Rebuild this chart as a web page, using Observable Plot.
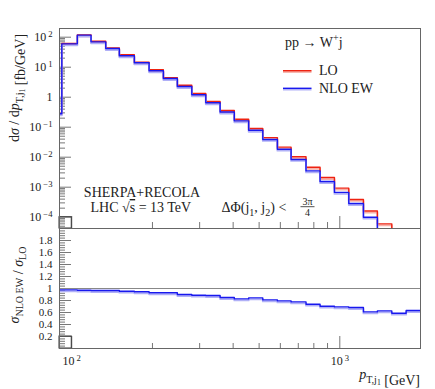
<!DOCTYPE html>
<html><head><meta charset="utf-8">
<script src="https://cdn.jsdelivr.net/npm/d3@7"></script>
<script src="https://cdn.jsdelivr.net/npm/@observablehq/plot@0.6"></script>
<style>
body{margin:0;background:#fff;}
#chart{position:relative;width:435px;height:389px;}
#chart svg{position:absolute;left:0;overflow:visible;}
</style></head><body><div id="chart"></div>
<script>
// ---- data ----
const binEdges = [90, 91.8, 104.9, 118, 133.9, 150.5, 171.2, 194.3, 219.7, 247.7, 280.4, 316.2, 357.6, 404, 457, 516, 585, 658, 748, 844, 955, 1080, 1225, 1381, 1563, 1768, 2000];
const loValues = [0.29, 62, 120, 73.6, 44, 25.9, 14.7, 8.2, 4.5, 2.5, 1.33, 0.72, 0.36, 0.185, 0.09, 0.045, 0.0216, 0.0103, 0.0046, 0.0021, 9.3e-4, 3.9e-4, 1.6e-4, 6e-5, 3e-5, 1.5e-5];
const nloValues = [0.28, 60, 117, 70, 42, 24, 14, 7.6, 4.2, 2.27, 1.2, 0.65, 0.32, 0.163, 0.079, 0.039, 0.0185, 0.0084, 0.0035, 0.00155, 6.7e-4, 2.86e-4, 1.0e-4, 3.6e-5, 1.8e-5, 9e-6];
const ratioValues = [0.977, 0.977, 0.972, 0.967, 0.967, 0.955, 0.945, 0.928, 0.928, 0.9, 0.888, 0.883, 0.85, 0.827, 0.843, 0.81, 0.793, 0.777, 0.738, 0.705, 0.693, 0.683, 0.61, 0.627, 0.588, 0.633];
const seriesNames = ["LO", "NLO EW"];
const xMajorTicks = [100, 1000];
const xMinorTicks = [200, 300, 400, 500, 600, 700, 800, 900];
const yMajorTicks = [1e-4, 1e-3, 1e-2, 1e-1, 1, 10, 100];
const yMinorTicks = [];
for (let d = -5; d <= 2; d++) for (let k = 2; k <= 9; k++) { const v = k * Math.pow(10, d); if (v > 4.2e-5 && v < 195) yMinorTicks.push(v); }
const ratioMajorTicks = [0.2, 0.4, 0.6, 0.8, 1, 1.2, 1.4, 1.6, 1.8];
const ratioMinorTicks = [];
for (let i = 1; i < 50; i++) if (i % 5) ratioMinorTicks.push(+(i * 0.04).toFixed(2));
const boxEdges = [90, 100];
const boxTopValue = 1e-4;
const boxRatioValue = 0.2;

// ---- style ----
const FONT = "'Liberation Serif', 'DejaVu Serif', serif";
const RED = "#ee2211", RED_L = "#f7b0a8";
const BLUE = "#1818ee", BLUE_L = "#b0b0f7";
const TICK = "#777", FRAME = "#666", INK = "#222";
const xDomain = [90, 2000];
const yDomain = [4.2e-5, 195];
const PW = 435 - 59 - 15;

const stepData = vals => binEdges.map((e, i) => ({x: e, y: vals[Math.min(i, vals.length - 1)]}));
const powFmt = v => {
  const e = Math.round(Math.log10(v));
  return e === 0 ? "1" : "10^" + (e < 0 ? "\u2212" + (-e) : e);
};

const topSvg = Plot.plot({
  width: 435, height: 228, marginLeft: 59, marginRight: 15, marginTop: 28, marginBottom: 0,
  x: {type: "log", domain: xDomain, axis: null},
  y: {type: "log", domain: yDomain, axis: null},
  style: {fontFamily: FONT, fontSize: "12px", color: INK, background: "none", overflow: "visible"},
  marks: [
    Plot.tickY(yMinorTicks, {y: d => d, stroke: TICK, insetRight: PW - 6}),
    Plot.tickY(yMajorTicks, {y: d => d, stroke: TICK, insetRight: PW - 12}),
    Plot.tickX(xMinorTicks, {x: d => d, stroke: TICK, insetTop: 200 - 6}),
    Plot.tickX(xMajorTicks, {x: d => d, stroke: TICK, insetTop: 200 - 12}),
    Plot.rect([0], {x1: () => boxEdges[0], x2: () => boxEdges[1], y1: () => yDomain[0], y2: () => boxTopValue, fill: "none", stroke: "#333"}),
    Plot.line(stepData(loValues), {x: "x", y: "y", curve: "step-after", stroke: RED_L, strokeWidth: 1.8, dy: 1.5, clip: true}),
    Plot.line(stepData(loValues), {x: "x", y: "y", curve: "step-after", stroke: RED, strokeWidth: 1.4, clip: true}),
    Plot.line(stepData(nloValues), {x: "x", y: "y", curve: "step-after", stroke: BLUE_L, strokeWidth: 1.8, dy: 1.5, clip: true}),
    Plot.line(stepData(nloValues), {x: "x", y: "y", curve: "step-after", stroke: BLUE, strokeWidth: 1.4, clip: true}),
    Plot.axisY(yMajorTicks, {tickSize: 0, tickPadding: 7, tickFormat: powFmt, fontSize: 12, label: null}),
    Plot.frame({stroke: FRAME})
  ]
});
topSvg.style.top = "0px";

const bottomSvg = Plot.plot({
  width: 435, height: 161, marginLeft: 59, marginRight: 15, marginTop: 0, marginBottom: 41,
  x: {type: "log", domain: xDomain, axis: null},
  y: {domain: [0, 2], axis: null},
  style: {fontFamily: FONT, fontSize: "12px", color: INK, background: "none", overflow: "visible"},
  marks: [
    Plot.tickY(ratioMinorTicks, {y: d => d, stroke: TICK, insetRight: PW - 6}),
    Plot.tickY(ratioMajorTicks, {y: d => d, stroke: TICK, insetRight: PW - 12}),
    Plot.tickX(xMinorTicks, {x: d => d, stroke: TICK, insetTop: 120 - 5}),
    Plot.tickX(xMajorTicks, {x: d => d, stroke: TICK, insetTop: 120 - 12}),
    Plot.ruleY([1], {stroke: "#888"}),
    Plot.rect([0], {x1: () => boxEdges[0], x2: () => boxEdges[1], y1: 0, y2: () => boxRatioValue, fill: "none", stroke: "#333"}),
    Plot.line(stepData(ratioValues), {x: "x", y: "y", curve: "step-after", stroke: BLUE_L, strokeWidth: 1.8, dy: 1.5, clip: true}),
    Plot.line(stepData(ratioValues), {x: "x", y: "y", curve: "step-after", stroke: BLUE, strokeWidth: 1.4, clip: true}),
    Plot.axisY(ratioMajorTicks, {tickSize: 0, tickPadding: 7, tickFormat: d => String(+d.toFixed(1)), fontSize: 11, label: null}),
    Plot.axisX(xMajorTicks, {tickSize: 0, tickPadding: 8, tickFormat: powFmt, fontSize: 12, label: null}),
    Plot.frame({stroke: FRAME})
  ]
});
bottomSvg.style.top = "228px";

const chart = document.getElementById("chart");
chart.append(topSvg, bottomSvg);

// superscript exponents in tick labels
for (const svg of [topSvg, bottomSvg]) {
  svg.querySelectorAll("text").forEach(t => {
    const m = t.textContent.match(/^10\^(.+)$/);
    if (!m) return;
    t.textContent = "";
    const s = d3.select(t);
    s.append("tspan").text("10");
    s.append("tspan").attr("dx", 2).attr("dy", "-0.45em").attr("font-size", "0.72em").text(m[1]);
  });
}

// rich text helper
function rich(svg, {x, y, anchor = "start", size = 14, rotate = 0, parts}) {
  const t = d3.select(svg).append("text")
    .attr("transform", `translate(${x},${y}) rotate(${rotate})`)
    .attr("text-anchor", anchor).attr("font-family", FONT).attr("font-size", size)
    .attr("fill", INK).style("white-space", "pre");
  let shift = 0;
  for (const p of parts) {
    const [str, kind] = Array.isArray(p) ? p : [p, "n"];
    const target = kind === "sub" ? 0.25 * size : kind === "subsub" ? 0.42 * size : kind === "sup" ? -0.4 * size : 0;
    const fs = (kind === "n" || kind === "it") ? size : kind === "subsub" ? size * 0.55 : size * 0.72;
    const ts = t.append("tspan").attr("dy", target - shift).attr("font-size", fs).text(str);
    if (kind === "it") ts.attr("font-style", "italic");
    shift = target;
  }
  return t;
}

// axis titles
rich(topSvg, {x: 19, y: 88, anchor: "middle", rotate: -90, size: 14,
  parts: ["d", ["σ", "it"], " / d", ["p", "it"], ["T,j", "sub"], ["1", "subsub"], ["", "n"], " [fb/GeV]"]});
rich(bottomSvg, {x: 19, y: 57, anchor: "middle", rotate: -90, size: 14,
  parts: [["σ", "it"], ["NLO EW", "sub"], ["", "n"], " / ", ["σ", "it"], ["LO", "sub"]]});
rich(bottomSvg, {x: 420, y: 151, anchor: "end", size: 14,
  parts: [["p", "it"], ["T,j", "sub"], ["1", "subsub"], ["", "n"], " [GeV]"]});

// process title and legend
rich(topSvg, {x: 285, y: 47, size: 14, parts: ["pp \u2192 W", ["+", "sup"], ["j", "n"]]});
const lg = d3.select(topSvg);
[[RED, RED_L, 70.7, seriesNames[0]], [BLUE, BLUE_L, 88.3, seriesNames[1]]].forEach(([c, cl, y, name]) => {
  lg.append("line").attr("x1", 283).attr("x2", 311.5).attr("y1", y + 1.3).attr("y2", y + 1.3).attr("stroke", cl).attr("stroke-width", 1.8);
  lg.append("line").attr("x1", 283).attr("x2", 311.5).attr("y1", y).attr("y2", y).attr("stroke", c).attr("stroke-width", 1.4);
  rich(topSvg, {x: 319, y: y + 4.5, size: 14, parts: [name]});
});

// annotations
rich(topSvg, {x: 142, y: 197, anchor: "middle", size: 14, parts: ["SHERPA+RECOLA"]});
const lhc = rich(topSvg, {x: 90.5, y: 212, size: 14, parts: ["LHC \u221A"]});
lhc.append("tspan").style("text-decoration", "overline").text("s");
lhc.append("tspan").text(" = 13 TeV");
rich(topSvg, {x: 221.5, y: 212, size: 14,
  parts: ["\u0394\u03A6(j", ["1", "sub"], [", j", "n"], ["2", "sub"], [") < ", "n"]]});
rich(topSvg, {x: 307.5, y: 204.5, anchor: "middle", size: 10, parts: ["3\u03C0"]});
lg.append("line").attr("x1", 300.5).attr("x2", 314.5).attr("y1", 206.7).attr("y2", 206.7).attr("stroke", INK).attr("stroke-width", 0.8);
rich(topSvg, {x: 307.5, y: 216, anchor: "middle", size: 10, parts: ["4"]});
</script></body></html>
